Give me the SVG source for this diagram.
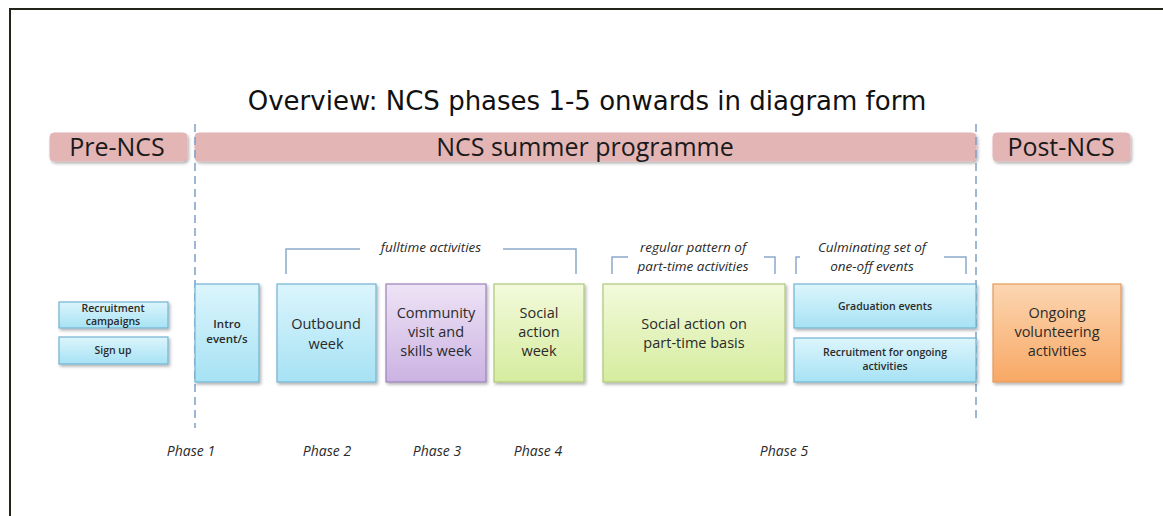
<svg xmlns="http://www.w3.org/2000/svg" width="1163" height="516" viewBox="0 0 1163 516">
  <defs>
    <linearGradient id="gCyan" x1="0" y1="0" x2="0" y2="1">
      <stop offset="0" stop-color="#dcf5fc"/>
      <stop offset="1" stop-color="#a6e2f4"/>
    </linearGradient>
    <linearGradient id="gPurple" x1="0" y1="0" x2="0" y2="1">
      <stop offset="0" stop-color="#eee3f6"/>
      <stop offset="1" stop-color="#cbb3e2"/>
    </linearGradient>
    <linearGradient id="gGreen" x1="0" y1="0" x2="0" y2="1">
      <stop offset="0" stop-color="#f3fadc"/>
      <stop offset="1" stop-color="#d5ec9e"/>
    </linearGradient>
    <linearGradient id="gOrange" x1="0" y1="0" x2="0" y2="1">
      <stop offset="0" stop-color="#fcd6b2"/>
      <stop offset="1" stop-color="#f8a864"/>
    </linearGradient>
    <filter id="shadow" x="-10%" y="-10%" width="125%" height="130%">
      <feDropShadow dx="1.5" dy="2" stdDeviation="1.5" flood-color="#000" flood-opacity="0.3"/>
    </filter>
  </defs>
  <style>
    text { font-family: "Open Sans", "Liberation Sans", sans-serif; fill: #2a2a2a; text-anchor: middle; }
    .title { font-family: "DejaVu Sans", "Liberation Sans", sans-serif; font-size: 26px; fill: #111; }
    .band { fill: #e4b5b5; stroke: #e4b5b5; filter: url(#shadow); }
    .bandText { font-size: 25px; fill: #1a1a1a; }
    .box { stroke-width: 1.2; filter: url(#shadow); }
    .cyan { fill: url(#gCyan); stroke: #72b4d2; }
    .purple { fill: url(#gPurple); stroke: #9b82ba; }
    .green { fill: url(#gGreen); stroke: #adc97a; }
    .orange { fill: url(#gOrange); stroke: #e59a5a; }
    .lbl { font-size: 14.5px; }
    .small { font-size: 10.5px; font-weight: 600; }
    .note { font-size: 13.5px; font-style: italic; }
    .phase { font-size: 14px; font-style: italic; }
    .bracket { fill: none; stroke: #8aa8cc; stroke-width: 1.5; }
    .divider { stroke: #7f9fc8; stroke-width: 1.5; stroke-dasharray: 8 5; }
  </style>

  <!-- page frame -->
  <path d="M10 516 V9 H1163" fill="none" stroke="#22261a" stroke-width="2"/>

  <text class="title" x="587" y="110">Overview: NCS phases 1-5 onwards in diagram form</text>

  <!-- stage bands -->
  <g id="pre-ncs">
    <rect class="band" x="50" y="133" width="137" height="28" rx="4"/>
    <text class="bandText" x="117" y="156">Pre-NCS</text>
  </g>
  <g id="ncs-summer">
    <rect class="band" x="195" y="133" width="781" height="28" rx="4"/>
    <text class="bandText" x="585" y="156">NCS summer programme</text>
  </g>
  <g id="post-ncs">
    <rect class="band" x="993" y="133" width="137" height="28" rx="4"/>
    <text class="bandText" x="1061" y="156">Post-NCS</text>
  </g>

  <!-- dividers and brackets -->
  <g id="connectors">
    <line class="divider" x1="195" y1="124" x2="195" y2="428"/>
    <line class="divider" x1="976" y1="124" x2="976" y2="418"/>
    <path class="bracket" d="M286 274 V249 H360 M503 249 H576 V274"/>
    <path class="bracket" d="M612 274 V257 H628 M764 257 H775 V274"/>
    <path class="bracket" d="M796 274 V257 H800 M944 257 H966 V274"/>
  </g>

  <!-- bracket labels -->
  <text class="note" x="431" y="252">fulltime activities</text>
  <text class="note" x="693" y="252">regular pattern of</text>
  <text class="note" x="693" y="271">part-time activities</text>
  <text class="note" x="872" y="252">Culminating set of</text>
  <text class="note" x="872" y="271">one-off events</text>

  <!-- activity boxes -->
  <g id="recruitment-campaigns">
    <rect class="box cyan" x="59" y="302" width="109" height="26"/>
    <text class="small" x="113" y="312">Recruitment</text>
    <text class="small" x="113" y="325">campaigns</text>
  </g>
  <g id="sign-up">
    <rect class="box cyan" x="59" y="337" width="109" height="27"/>
    <text class="small" x="113" y="354">Sign up</text>
  </g>
  <g id="intro-events">
    <rect class="box cyan" x="195" y="284" width="64" height="98"/>
    <text class="small" x="227" y="328" style="font-size:11.5px">Intro</text>
    <text class="small" x="227" y="343" style="font-size:11.5px">event/s</text>
  </g>
  <g id="outbound-week">
    <rect class="box cyan" x="277" y="284" width="99" height="98"/>
    <text class="lbl" x="326" y="329">Outbound</text>
    <text class="lbl" x="326" y="349">week</text>
  </g>
  <g id="community-week">
    <rect class="box purple" x="386" y="284" width="100" height="98"/>
    <text class="lbl" x="436" y="318">Community</text>
    <text class="lbl" x="436" y="337">visit and</text>
    <text class="lbl" x="436" y="356">skills week</text>
  </g>
  <g id="social-action-week">
    <rect class="box green" x="494" y="284" width="90" height="98"/>
    <text class="lbl" x="539" y="318">Social</text>
    <text class="lbl" x="539" y="337">action</text>
    <text class="lbl" x="539" y="356">week</text>
  </g>
  <g id="social-action-part-time">
    <rect class="box green" x="603" y="284" width="182" height="98"/>
    <text class="lbl" x="694" y="329">Social action on</text>
    <text class="lbl" x="694" y="348">part-time basis</text>
  </g>
  <g id="graduation-events">
    <rect class="box cyan" x="794" y="284" width="182" height="44"/>
    <text class="small" x="885" y="310">Graduation events</text>
  </g>
  <g id="recruitment-ongoing">
    <rect class="box cyan" x="794" y="338" width="182" height="44"/>
    <text class="small" x="885" y="356">Recruitment for ongoing</text>
    <text class="small" x="885" y="370">activities</text>
  </g>
  <g id="ongoing-volunteering">
    <rect class="box orange" x="993" y="284" width="128" height="98"/>
    <text class="lbl" x="1057" y="318">Ongoing</text>
    <text class="lbl" x="1057" y="337">volunteering</text>
    <text class="lbl" x="1057" y="356">activities</text>
  </g>

  <!-- phase labels -->
  <text class="phase" x="191" y="456">Phase 1</text>
  <text class="phase" x="327" y="456">Phase 2</text>
  <text class="phase" x="437" y="456">Phase 3</text>
  <text class="phase" x="538" y="456">Phase 4</text>
  <text class="phase" x="784" y="456">Phase 5</text>
</svg>
